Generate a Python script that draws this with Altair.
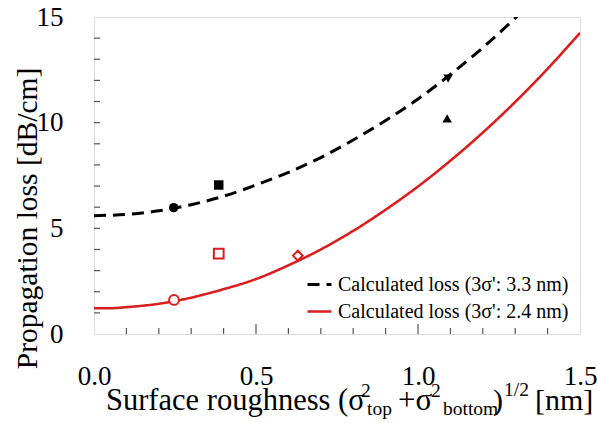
import altair as alt
import pandas as pd

FONT = "Liberation Serif"
RED = "#d81e1e"

# ---- data ----
curve_x_33 = [0.0, 0.1, 0.2, 0.3, 0.4, 0.5, 0.6, 0.7, 0.8, 0.9, 1.0, 1.1, 1.2, 1.3, 1.35]
curve_y_33 = [5.6, 5.66, 5.83, 6.12, 6.52, 7.05, 7.65, 8.35, 9.18, 10.1, 11.12, 12.28, 13.55, 14.95, 15.7]
curve_x_24 = [0.0, 0.05, 0.1, 0.2, 0.3, 0.4, 0.5, 0.6, 0.7, 0.8, 0.9, 1.0, 1.1, 1.2, 1.3, 1.4, 1.5]
curve_y_24 = [1.22, 1.22, 1.27, 1.43, 1.72, 2.12, 2.6, 3.25, 4.0, 4.88, 5.88, 6.98, 8.2, 9.53, 10.98, 12.55, 14.25]
series_names = ["Calculated loss (3σ': 3.3 nm)", "Calculated loss (3σ': 2.4 nm)"]

meas_black_x = [0.246, 0.385, 1.093, 1.09]
meas_black_y = [5.98, 7.05, 12.08, 10.2]
meas_black_shape = ["circle", "square", "triangle-down", "triangle-up"]

meas_red_x = [0.247, 0.385, 0.629]
meas_red_y = [1.61, 3.8, 3.71]
meas_red_shape = ["circle", "square", "diamond"]

x_ticks_major = [0.0, 0.5, 1.0, 1.5]
y_ticks_major = [0, 5, 10, 15]
x_minor = [0.1, 0.2, 0.3, 0.4, 0.6, 0.7, 0.8, 0.9, 1.1, 1.2, 1.3, 1.4]
x_mid = [0.5, 1.0]
y_minor = [1, 2, 3, 4, 5, 6, 7, 8, 9, 10, 11, 12, 13, 14]

title_parts = ["Surface roughness (σ", "2", "top", "+σ", "2", "bottom", ")", "1/2", "[nm]"]

W, H = 486, 317

lines_df = pd.concat([
    pd.DataFrame({"x": curve_x_33, "y": curve_y_33, "series": series_names[0]}),
    pd.DataFrame({"x": curve_x_24, "y": curve_y_24, "series": series_names[1]}),
])
black_df = pd.DataFrame({"x": meas_black_x, "y": meas_black_y, "shape": meas_black_shape})
red_df = pd.DataFrame({"x": meas_red_x, "y": meas_red_y, "shape": meas_red_shape})

xscale = alt.Scale(domain=[0, 1.5], nice=False, zero=False)
yscale = alt.Scale(domain=[0, 15], nice=False)

xaxis = alt.Axis(values=x_ticks_major, format=".1f", ticks=False, domain=False, grid=False,
                 labelFont=FONT, labelFontSize=27, labelColor="black", labelPadding=29,
                 labelFlush=False, title=None)
yaxis = alt.Axis(values=y_ticks_major, ticks=False, domain=False, grid=False,
                 labelFont=FONT, labelFontSize=27, labelColor="black", labelPadding=31,
                 title="Propagation loss [dB/cm]", titleFont=FONT, titleFontSize=29.5,
                 titleFontWeight="normal", titleColor="black", titleAngle=-90,
                 titleX=-67, titleY=201, titleAlign="center", titleBaseline="middle")

lines = alt.Chart(lines_df).mark_line(interpolate="monotone", clip=True).encode(
    x=alt.X("x:Q", scale=xscale, axis=xaxis),
    y=alt.Y("y:Q", scale=yscale, axis=yaxis),
    color=alt.Color("series:N", scale=alt.Scale(domain=series_names, range=["black", RED]),
                    legend=alt.Legend(title=None, orient="none", legendX=212, legendY=254,
                                      symbolType="stroke", symbolSize=576, symbolStrokeWidth=3,
                                      labelFont=FONT, labelFontSize=20, labelColor="black",
                                      labelOffset=5, rowPadding=3, padding=0,
                                      labelLimit=400)),
    strokeDash=alt.StrokeDash("series:N", scale=alt.Scale(domain=series_names, range=[[12, 7], [1, 0]]),
                              legend=None),
    strokeWidth=alt.StrokeWidth("series:N", scale=alt.Scale(domain=series_names, range=[3, 2.6]),
                                legend=None),
)

black_pts = alt.Chart(black_df).mark_point(filled=True, color="black", opacity=1, size=90).encode(
    x="x:Q", y="y:Q", shape=alt.Shape("shape:N", scale=None))

red_pts = alt.Chart(red_df).mark_point(filled=False, color=RED, fill="white", fillOpacity=1,
                                       opacity=1, strokeWidth=2, size=95).encode(
    x="x:Q", y="y:Q", shape=alt.Shape("shape:N", scale=None))

tick_color = "#555"
xminor_df = pd.DataFrame({"x": x_minor})
xmid_df = pd.DataFrame({"x": x_mid})
yminor_df = pd.DataFrame({"y": y_minor})
xt = alt.Chart(xminor_df).mark_rule(color=tick_color, strokeWidth=1.2).encode(
    x="x:Q", y=alt.value(H), y2=alt.value(H - 6))
xm = alt.Chart(xmid_df).mark_rule(color=tick_color, strokeWidth=1.2).encode(
    x="x:Q", y=alt.value(H), y2=alt.value(H - 10))
yt = alt.Chart(yminor_df).mark_rule(color=tick_color, strokeWidth=1.2).encode(
    y="y:Q", x=alt.value(0), x2=alt.value(6))

# x-axis title pieces (with super/subscripts)
piece_x = [12, 267, 273, 304, 337, 349, 399, 410, 441]
piece_y = [393, 380, 398, 393, 380, 398, 393, 379, 393]
piece_size = [30.5, 19.5, 19.5, 31, 19.5, 19.5, 30, 19.5, 30]
one = pd.DataFrame({"k": [0]})
title_layers = []
for txt, px, py, fs in zip(title_parts, piece_x, piece_y, piece_size):
    title_layers.append(
        alt.Chart(one).mark_text(text=txt, font=FONT, fontSize=fs, align="left",
                                 baseline="alphabetic", color="black").encode(
            x=alt.value(px), y=alt.value(py))
    )

chart = alt.layer(xt, xm, yt, lines, red_pts, black_pts, *title_layers).properties(
    width=W, height=H,
    autosize=alt.AutoSizeParams(type="none"),
    padding={"left": 94, "top": 17, "right": 17, "bottom": 89},
).configure_view(stroke="#666", strokeWidth=1.5).configure(background="white")

chart.save("out.html", embed_options={"renderer": "svg", "actions": False})
